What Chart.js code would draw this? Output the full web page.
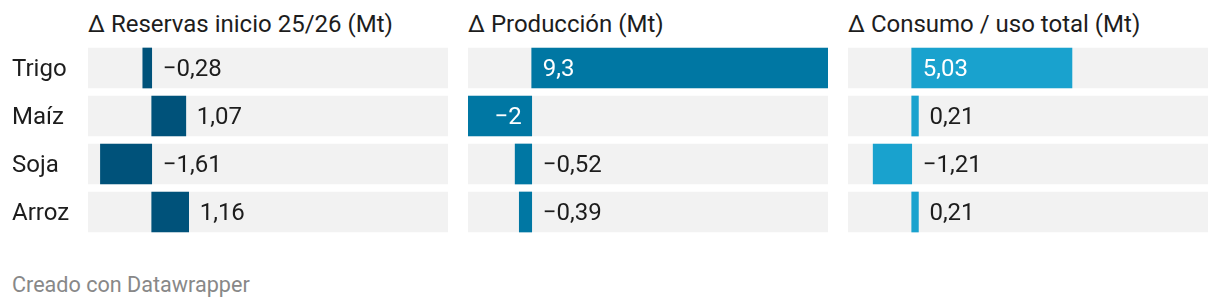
<!DOCTYPE html>
<html>
<head>
<meta charset="utf-8">
<script src="https://cdn.jsdelivr.net/npm/chart.js@4"></script>
<style>
  body { margin: 0; background: #fff; width: 1220px; height: 308px; position: relative; overflow: hidden; font-family: Roboto, sans-serif; }
  .title { position: absolute; top: 12px; font-size: 24px; line-height: 24px; color: #1d1d1d; white-space: nowrap; }
  .footer { position: absolute; left: 12px; top: 274px; font-size: 21.6px; line-height: 22px; color: #888; }
  canvas { position: absolute; top: 44px; }
</style>
</head>
<body>
<div class="title" style="left:88px">Δ Reservas inicio 25/26 (Mt)</div>
<div class="title" style="left:468px">Δ Producción (Mt)</div>
<div class="title" style="left:848px">Δ Consumo / uso total (Mt)</div>
<canvas id="c1" width="448" height="192" style="left:0"></canvas>
<canvas id="c2" width="360" height="192" style="left:468px"></canvas>
<canvas id="c3" width="360" height="192" style="left:848px"></canvas>
<div class="footer">Creado con Datawrapper</div>
<script>
const categories = ["Trigo", "Maíz", "Soja", "Arroz"];
const reservas = [-0.28, 1.07, -1.61, 1.16];
const produccion = [9.3, -2, -0.52, -0.39];
const consumo = [5.03, 0.21, -1.21, 0.21];
// shared scale for all three panels
const xMin = -2;
const xMax = 9.3;

function fmt(v) {
    return String(v).replace(".", ",").replace("-", "\u2212");
}

// value labels: inside (white) when the bar has room, else right of the bar / zero line
const valueLabels = {
    id: "valueLabels",
    afterDatasetsDraw(chart) {
        const ctx = chart.ctx;
        const values = chart.data.datasets[0].data;
        ctx.save();
        ctx.font = "24px Roboto";
        ctx.textBaseline = "middle";
        chart.getDatasetMeta(0).data.forEach(function (bar, i) {
            const v = values[i];
            const txt = fmt(v);
            const w = ctx.measureText(txt).width;
            const len = Math.abs(bar.x - bar.base);
            const y = bar.y + 2;
            if (v >= 0) {
                if (len > w + 24) {
                    ctx.fillStyle = "#fff";
                    ctx.textAlign = "left";
                    ctx.fillText(txt, bar.base + 11, y);
                } else {
                    ctx.fillStyle = "#1d1d1d";
                    ctx.textAlign = "left";
                    ctx.fillText(txt, bar.x + 11, y);
                }
            } else {
                if (len > w + 22) {
                    ctx.fillStyle = "#fff";
                    ctx.textAlign = "right";
                    ctx.fillText(txt, bar.base - 10, y);
                } else {
                    ctx.fillStyle = "#1d1d1d";
                    ctx.textAlign = "left";
                    ctx.fillText(txt, bar.base + 11, y);
                }
            }
        });
        ctx.restore();
    }
};

// row labels on the first panel only
const rowLabels = {
    id: "rowLabels",
    afterDraw(chart) {
        const ctx = chart.ctx;
        const y = chart.scales.y;
        ctx.save();
        ctx.font = "24px Roboto";
        ctx.fillStyle = "#1d1d1d";
        ctx.textAlign = "left";
        ctx.textBaseline = "middle";
        categories.forEach(function (c, i) {
            ctx.fillText(c, 12, y.getPixelForValue(i) + 2);
        });
        ctx.restore();
    }
};

function makeChart(id, values, color, leftPad, extra) {
    const ctx = document.getElementById(id).getContext("2d");
    return new Chart(ctx, {
        type: "bar",
        data: {
            labels: categories,
            datasets: [{
                data: values,
                backgroundColor: color,
                barThickness: 40,
                grouped: false,
                order: 1
            }, {
                data: categories.map(() => [xMin, xMax]),
                backgroundColor: "#f2f2f2",
                barThickness: 40,
                grouped: false,
                order: 2
            }]
        },
        options: {
            indexAxis: "y",
            responsive: false,
            animation: false,
            layout: { padding: { left: leftPad, right: 0, top: 0, bottom: 0 } },
            plugins: {
                legend: { display: false },
                tooltip: { enabled: false }
            },
            scales: {
                x: { display: false, min: xMin, max: xMax },
                y: { display: false }
            }
        },
        plugins: extra ? [valueLabels, rowLabels] : [valueLabels]
    });
}

document.fonts.load("24px Roboto").then(function () {
    makeChart("c1", reservas, "#00527a", 88, true);
    makeChart("c2", produccion, "#0077a3", 0, false);
    makeChart("c3", consumo, "#19a2ce", 0, false);
});
</script>
</body>
</html>
